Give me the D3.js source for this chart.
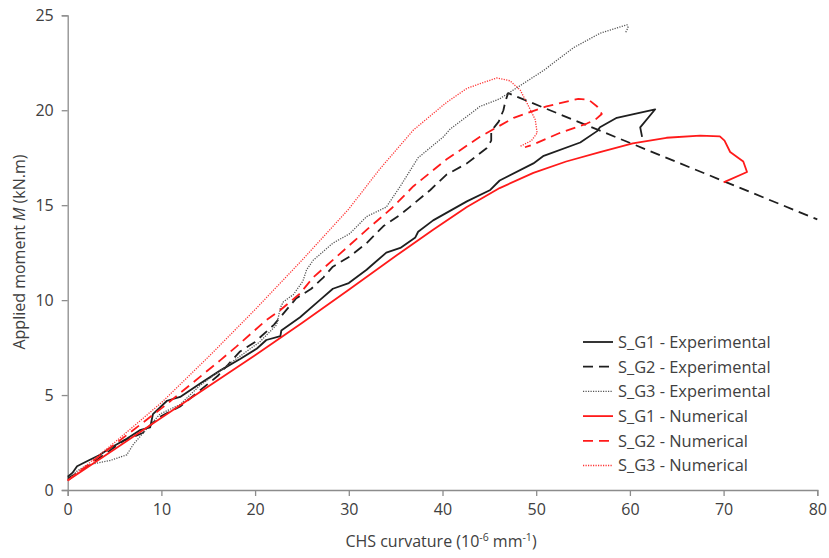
<!DOCTYPE html>
<html>
<head>
<meta charset="utf-8">
<script src="https://cdn.jsdelivr.net/npm/d3@7"></script>
<style>
  body { margin: 0; background: #fff; }
  svg text { font-family: "Open Sans", "Noto Sans", sans-serif; fill: #404040; }
</style>
</head>
<body>
<script>
// curvature (10^-6 mm^-1) vs moment (kN.m)
var g1Exp = [[0,0.7],[0.5,0.9],[1,1.25],[2,1.5],[3.4,1.84],[4.5,2.2],[6.3,2.7],[7.7,3.15],[8.8,3.3],[9.1,4.0],
  [10.6,4.7],[12,4.9],[14.1,5.6],[16.3,6.3],[18.4,6.9],[20.2,7.45],[21.2,7.9],[22.7,8.1],[22.8,8.4],[24.8,9.1],
  [26.9,10.0],[28.3,10.6],[30,10.9],[31.9,11.6],[32.6,11.9],[34,12.5],[35.5,12.75],[37.1,13.3],[37.4,13.6],[39,14.2],
  [42.6,15.2],[45.1,15.8],[46.1,16.3],[49.7,17.2],[50.8,17.6],[54.7,18.3],[56.5,18.9],[56.8,19.1],[58.6,19.6],
  [60.4,19.8],[62.7,20.05],[61.1,19.1],[61.3,18.6]];
var g2Exp = [[0,0.6],[2,1.2],[4,1.9],[6,2.6],[8,3.0],[9,3.5],[10,3.9],[12,4.4],[14,5.2],[16,6.0],[18.4,7.3],
  [20,7.8],[22,8.7],[24.4,10.1],[26,10.6],[27.3,11.2],[28.3,11.76],[30.1,12.3],[31.9,13.0],[33.7,13.9],[35.5,14.5],
  [36.5,14.9],[38.7,15.8],[40.4,16.6],[42.6,17.2],[44.7,18.0],[45.2,18.4],[45.2,18.9],[46,19.4],[46.5,20.0],
  [46.7,20.45],[47,20.9],[80,14.25]];
var g3Exp = [[0,0.5],[1,1.0],[2,1.3],[4.5,1.55],[6.3,1.85],[7,2.4],[8.4,3.2],[9.85,4.0],[12,4.5],[14.1,5.5],
  [17.7,6.8],[20.5,7.8],[22.3,8.7],[22.7,9.6],[23,9.9],[24.1,10.3],[25.1,11.0],[25.5,11.6],[26.2,12.1],[28.3,13.0],
  [30.1,13.5],[31.9,14.4],[34,14.9],[35.5,16.0],[37.4,17.5],[40.1,18.6],[40.8,19.0],[44,20.2],[46.1,20.6],
  [48.3,21.3],[50.8,22.1],[54,23.3],[56.8,24.05],[59.7,24.5],[59.8,24.35],[59.5,24.05]];
var g1Num = [[0,0.5],[5,2.15],[10,3.8],[15,5.45],[20,7.1],[25,8.8],[30,10.55],[35.5,12.5],[39,13.7],[42.6,14.9],
  [46.1,15.9],[49.7,16.7],[53.2,17.3],[56.8,17.8],[60.3,18.25],[63.9,18.55],[67.5,18.66],[69.6,18.62],[70.1,18.4],
  [70.7,17.8],[72.1,17.3],[72.5,16.75],[70.0,16.2]];
var g2Num = [[0,0.5],[5,2.4],[10,4.3],[16.3,6.84],[18,7.55],[21.2,8.95],[22.7,9.48],[24.8,10.35],[26.2,11.2],
  [29.1,12.46],[31.9,13.7],[34.6,14.85],[36.9,16.0],[40.4,17.4],[44,18.6],[47.6,19.6],[51.1,20.2],[54.5,20.6],
  [55.6,20.55],[56.5,20.2],[57,19.8],[56.3,19.5],[55.4,19.3],[52.5,18.8],[49.7,18.2],[48.8,18.05]];
var g3Num = [[0,0.5],[5,2.5],[10,4.6],[15,7.0],[20,9.5],[25,12.1],[30,14.8],[33.3,16.9],[36.9,18.96],[40.4,20.4],
  [42.6,21.15],[44,21.4],[45.8,21.7],[47.2,21.55],[48.3,21.06],[49.3,20.1],[49.9,19.5],[50.1,18.8],[49.5,18.4],[48.3,18.1]];

var seriesNames = ["S_G1 - Experimental", "S_G2 - Experimental", "S_G3 - Experimental",
                   "S_G1 - Numerical", "S_G2 - Numerical", "S_G3 - Numerical"];
var seriesData = [g1Exp, g2Exp, g3Exp, g1Num, g2Num, g3Num];
var xTicks = [0, 10, 20, 30, 40, 50, 60, 70, 80];
var yTicks = [0, 5, 10, 15, 20, 25];

// line styles for each series
var styles = [
  {color: "#1f1f1f", width: 1.8, dash: null},
  {color: "#1f1f1f", width: 1.8, dash: "10,6"},
  {color: "#555555", width: 1.3, dash: "1.2,1.3"},
  {color: "#ff1a1a", width: 1.8, dash: null},
  {color: "#ff1a1a", width: 1.8, dash: "10,6"},
  {color: "#ff3333", width: 1.3, dash: "1.2,1.3"}
];

var width = 829, height = 558;
var svg = d3.select("body").append("svg")
    .attr("width", width)
    .attr("height", height);

var x = d3.scaleLinear().domain([0, 80]).range([67.7, 817.3]);
var y = d3.scaleLinear().domain([0, 25]).range([490, 15.3]);

//axes
var xAxis = svg.append("g")
    .attr("transform", "translate(0," + y(0) + ")")
    .call(d3.axisBottom(x).tickValues(xTicks).tickSize(6).tickPadding(8).tickFormat(d3.format("d")));
var yAxis = svg.append("g")
    .attr("transform", "translate(" + x(0) + ",0)")
    .call(d3.axisLeft(y).tickValues(yTicks).tickSize(6).tickPadding(8).tickFormat(d3.format("d")));

[xAxis, yAxis].forEach(function(a) {
    a.select(".domain").attr("stroke", "#8c8c8c").attr("stroke-width", 1.3);
    a.selectAll(".tick line").attr("stroke", "#8c8c8c").attr("stroke-width", 1.3);
    a.selectAll(".tick text").style("font-size", "16px").attr("fill", "#404040");
});
yAxis.selectAll(".tick text").attr("dy", "0.34em");

//curves
var line = d3.line()
    .x(function(d) { return x(d[0]); })
    .y(function(d) { return y(d[1]); });

svg.selectAll(".curve")
    .data(seriesData)
    .enter()
    .append("path")
    .attr("class", "curve")
    .attr("d", line)
    .attr("fill", "none")
    .attr("stroke", function(d, i) { return styles[i].color; })
    .attr("stroke-width", function(d, i) { return styles[i].width; })
    .attr("stroke-dasharray", function(d, i) { return styles[i].dash; })
    .attr("stroke-linejoin", "round");

//legend
var legend = svg.append("g").attr("transform", "translate(583,342)");
var rows = legend.selectAll(".row")
    .data(seriesNames)
    .enter()
    .append("g")
    .attr("transform", function(d, i) { return "translate(0," + (i * 24.7) + ")"; });
rows.append("line")
    .attr("x1", 0).attr("x2", 30)
    .attr("stroke", function(d, i) { return styles[i].color; })
    .attr("stroke-width", function(d, i) { return styles[i].width; })
    .attr("stroke-dasharray", function(d, i) { return styles[i].dash; });
rows.append("text")
    .attr("x", 35)
    .attr("y", 5.8)
    .style("font-size", "16.4px")
    .text(function(d) { return d; });

//axis titles
var xt = svg.append("text")
    .attr("x", 441)
    .attr("y", 547)
    .attr("text-anchor", "middle")
    .style("font-size", "16px");
xt.append("tspan").text("CHS curvature (10");
xt.append("tspan").attr("dy", -6).style("font-size", "10.5px").text("-6");
xt.append("tspan").attr("dy", 6).text(" mm");
xt.append("tspan").attr("dy", -6).style("font-size", "10.5px").text("-1");
xt.append("tspan").attr("dy", 6).text(")");

var yt = svg.append("text")
    .attr("transform", "translate(25,252) rotate(-90)")
    .attr("text-anchor", "middle")
    .style("font-size", "16px");
yt.append("tspan").text("Applied moment ");
yt.append("tspan").style("font-style", "italic").text("M");
yt.append("tspan").text(" (kN.m)");
</script>
</body>
</html>
